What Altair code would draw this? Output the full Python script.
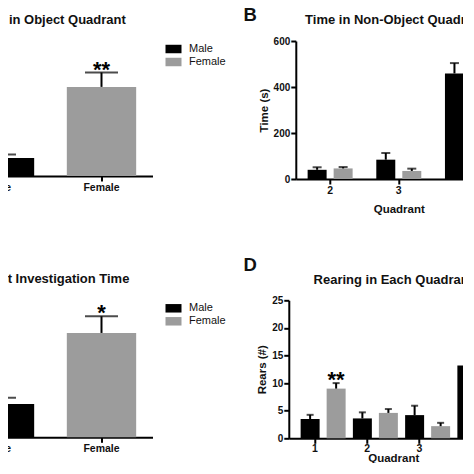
import altair as alt
import pandas as pd

FONT = "Liberation Sans"
INK = "#111111"

SEX = ["Male", "Female"]
SEX_COLORS = ["#000000", "#9c9c9c"]

# Panel A - Time in Object Quadrant
a_mean = [20, 99]
a_sem = [4, 16]
a_sig = ["", "**"]

# Panel B - Time in Non-Object Quadrants
b_quadrant = ["2", "3", "4"]
b_male_mean = [40, 84, 459]
b_male_sem = [11, 29, 45]
b_female_mean = [46, 35, 425]
b_female_sem = [6, 10, 40]
b_male_sig = ["", "", ""]
b_female_sig = ["", "", ""]
b_ticks = [0, 200, 400, 600]

# Panel C - Object Investigation Time
c_mean = [14.6, 45.7]
c_sem = [2.7, 7.3]
c_sig = ["", "*"]

# Panel D - Rearing in Each Quadrant
d_quadrant = ["1", "2", "3", "4"]
d_male_mean = [3.5, 3.6, 4.2, 13.2]
d_male_sem = [0.75, 1.1, 1.7, 1.3]
d_female_mean = [9.0, 4.6, 2.2, 18.2]
d_female_sem = [1.0, 0.7, 0.6, 1.1]
d_male_sig = ["", "", "", ""]
d_female_sig = ["**", "", "", "*"]
d_ticks = [0, 5, 10, 15, 20, 25]


def x_axis(title, label_pad=1.5, title_pad=6):
    kw = dict(labelAngle=0, labelFont=FONT, labelFontSize=10.5, labelFontWeight="bold",
              labelColor=INK, labelPadding=label_pad, tickSize=5, tickWidth=2,
              tickColor="black", domainColor="black", domainWidth=2)
    if title is None:
        return alt.Axis(title=None, **kw)
    return alt.Axis(title=title, titleFont=FONT, titleFontSize=11.5, titleFontWeight="bold",
                    titleColor=INK, titlePadding=title_pad, **kw)


def y_axis(title, values):
    return alt.Axis(title=title, values=values, grid=False, labelFont=FONT, labelFontSize=10,
                    labelFontWeight="bold", labelColor=INK, labelPadding=1, tickSize=5,
                    tickWidth=2, tickColor="black", domainColor="black", domainWidth=2,
                    titleFont=FONT, titleFontSize=11.5, titleFontWeight="bold",
                    titleColor=INK, titlePadding=4)


def panel_title(text, offset, dy):
    return alt.Title(text, font=FONT, fontSize=13, fontWeight="bold", color=INK,
                     anchor="middle", baseline="alphabetic", offset=offset, dy=dy)


def letter_title(text, dx, dy):
    return alt.Title(text, font=FONT, fontSize=18.5, fontWeight="bold", color=INK,
                     anchor="start", frame="group", baseline="alphabetic", dx=dx,
                     offset=0, dy=dy)


LEGEND = alt.Legend(title=None, orient="right", offset=12.7, padding=0,
                    symbolType="M-1,-0.53H1V0.53H-1Z", symbolSize=256, symbolStrokeWidth=0,
                    labelFont=FONT, labelFontSize=11, labelColor=INK, labelOffset=7.5,
                    rowPadding=0)

COLOR_SCALE = alt.Scale(domain=SEX, range=SEX_COLORS)


def layers(base, ysc, yax, cap, legend):
    bars = base.mark_bar().encode(
        y=alt.Y("mean:Q", scale=ysc, axis=yax, stack=None),
        color=alt.Color("sex:N", scale=COLOR_SCALE, legend=legend),
    )
    err = base.mark_rule(color="black", strokeWidth=2).encode(
        y=alt.Y("mean:Q", scale=ysc, axis=yax), y2="top:Q"
    )
    caps = base.mark_tick(color="black", thickness=2, size=cap, orient="horizontal").encode(
        y=alt.Y("top:Q", scale=ysc, axis=yax)
    )
    stars = base.mark_text(font=FONT, fontSize=22, fontWeight="bold", color="black",
                           baseline="alphabetic", dy=4).encode(
        y=alt.Y("top:Q", scale=ysc, axis=yax), text="sig:N"
    )
    return alt.layer(bars, err, caps, stars)


def single_panel(title, t_off, t_dy, mean, sem, sig, ymax, height):
    df = pd.DataFrame({"sex": SEX, "mean": mean, "sem": sem, "sig": sig})
    df["top"] = df["mean"] + df["sem"]
    ysc = alt.Scale(domain=[0, ymax], nice=False)
    base = alt.Chart(df).encode(
        x=alt.X("sex:N", sort=SEX, scale=alt.Scale(paddingInner=0.32, paddingOuter=0.16),
                axis=x_axis(None))
    )
    return layers(base, ysc, None, 33, LEGEND).properties(
        width=204, height=height, title=panel_title(title, t_off, t_dy)
    )


def grouped_panel(title, t_off, t_dy, quadrants, m_mean, m_sem, f_mean, f_sem, m_sig, f_sig,
                  ymax, ticks, ytitle, width, height, cap, label_pad, title_pad):
    rows = []
    for q, mm, ms, fm, fs, msg, fsg in zip(quadrants, m_mean, m_sem, f_mean, f_sem, m_sig, f_sig):
        rows.append({"quadrant": q, "sex": "Male", "mean": mm, "sem": ms, "sig": msg})
        rows.append({"quadrant": q, "sex": "Female", "mean": fm, "sem": fs, "sig": fsg})
    df = pd.DataFrame(rows)
    df["top"] = df["mean"] + df["sem"]
    ysc = alt.Scale(domain=[0, ymax], nice=False)
    base = alt.Chart(df).encode(
        x=alt.X("quadrant:N", sort=quadrants, scale=alt.Scale(paddingInner=0, paddingOuter=0),
                axis=x_axis("Quadrant", label_pad, title_pad)),
        xOffset=alt.XOffset("sex:N", sort=SEX,
                            scale=alt.Scale(paddingInner=0.27, paddingOuter=0.455)),
    )
    return layers(base, ysc, y_axis(ytitle, ticks), cap, None).properties(
        width=width, height=height, title=panel_title(title, t_off, t_dy)
    )


A = single_panel("Time in Object Quadrant", 4.2, 0, a_mean, a_sem, a_sig, 150, 135)
B = grouped_panel("Time in Non-Object Quadrants", 0, 0.8, b_quadrant, b_male_mean, b_male_sem,
                  b_female_mean, b_female_sem, b_male_sig, b_female_sig, 600, b_ticks,
                  "Time (s)", 206, 138, 9, 1.7, 7)
C = single_panel("Object Investigation Time", 3.9, 0, c_mean, c_sem, c_sig, 60, 137)
D = grouped_panel("Rearing in Each Quadrant", 0, 2.1, d_quadrant, d_male_mean, d_male_sem,
                  d_female_mean, d_female_sem, d_male_sig, d_female_sig, 25, d_ticks,
                  "Rears (#)", 209, 138, 7, 0.7, -1.5)

row1 = alt.hconcat(A, B, spacing=143.3, bounds="flush",
                   title=letter_title("B", 295, 25.7)) \
    .resolve_scale(color="independent").resolve_legend(color="independent")
row2 = alt.hconcat(C, D, spacing=136.3, bounds="flush",
                   title=letter_title("D", 295, 16.4)) \
    .resolve_scale(color="independent").resolve_legend(color="independent")

chart = alt.vconcat(row1, row2, spacing=41.3) \
    .resolve_scale(color="independent").resolve_legend(color="independent") \
    .properties(padding={"left": -59.5, "top": -2, "right": -39.3, "bottom": -2},
                autosize=alt.AutoSizeParams(type="pad"), background="white") \
    .configure(font=FONT) \
    .configure_view(stroke=None)

chart.save("out.html", embed_options={"renderer": "svg", "actions": False})
